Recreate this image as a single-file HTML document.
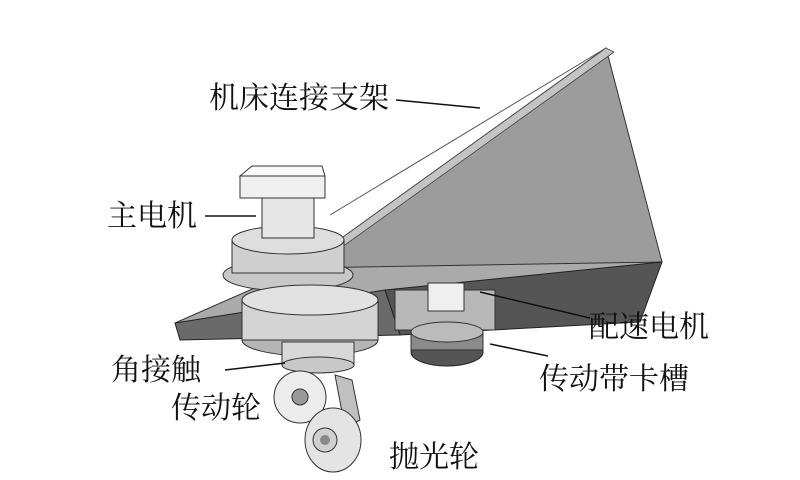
<!DOCTYPE html>
<html><head><meta charset="utf-8"><style>
html,body{margin:0;padding:0;background:#fff;width:800px;height:480px;overflow:hidden}
svg{display:block}
text{font-family:"Liberation Serif","Noto Serif CJK SC","Noto Sans CJK SC",serif;font-size:30px;fill:#111}
</style></head><body>
<svg width="800" height="480" viewBox="0 0 800 480">
<!-- big side face of bracket -->
<polygon points="300,268 606,48 662,262 640,292" fill="#9c9c9c" stroke="#333" stroke-width="1"/>
<polygon points="300,268 606,48 614,52 310,270" fill="#c4c4c4" stroke="#444" stroke-width="0.8"/>
<line x1="330" y1="215" x2="606" y2="48" stroke="#555" stroke-width="1"/>
<!-- plate top -->
<polygon points="175,323 300,268 662,262 420,290 385,300" fill="#aaaaaa" stroke="#333" stroke-width="1"/>
<!-- dark underside -->
<polygon points="385,290 662,262 640,322 400,335" fill="#555" stroke="#222" stroke-width="1"/>
<polygon points="175,323 385,290 400,335 180,340" fill="#6a6a6a" stroke="#222" stroke-width="1"/>
<!-- main motor -->
<ellipse cx="288" cy="275" rx="65" ry="16" fill="#c8c8c8" stroke="#333"/>
<rect x="232" y="240" width="112" height="33" fill="#cfcfcf" stroke="#333"/>
<ellipse cx="288" cy="240" rx="56" ry="14" fill="#dedede" stroke="#333"/>
<rect x="262" y="193" width="52" height="45" fill="#e6e6e6" stroke="#333"/>
<rect x="240" y="176" width="85" height="22" fill="#f0f0f0" stroke="#333"/>
<polygon points="240,176 252,166 322,166 325,176" fill="#fafafa" stroke="#333"/>
<!-- lower bearing housing -->
<ellipse cx="310" cy="340" rx="68" ry="16" fill="#b5b5b5" stroke="#333"/>
<rect x="242" y="300" width="136" height="40" fill="#d4d4d4" stroke="#333"/>
<ellipse cx="310" cy="300" rx="68" ry="15" fill="#e2e2e2" stroke="#333"/>
<rect x="282" y="342" width="72" height="23" fill="#d8d8d8" stroke="#333"/>
<ellipse cx="318" cy="365" rx="36" ry="8" fill="#c8c8c8" stroke="#333"/>
<!-- bracket arm -->
<polygon points="335,375 352,380 360,420 345,428" fill="#c0c0c0" stroke="#333"/>
<!-- drive wheel -->
<circle cx="300" cy="397" r="26" fill="#ececec" stroke="#333"/>
<circle cx="300" cy="397" r="8" fill="#999" stroke="#333"/>
<!-- polish wheel -->
<ellipse cx="333" cy="440" rx="28" ry="32" fill="#e4e4e4" stroke="#333"/>
<circle cx="325" cy="440" r="12" fill="#cfcfcf" stroke="#333"/>
<circle cx="325" cy="440" r="5" fill="#888"/>
<!-- speed motor -->
<rect x="395" y="290" width="100" height="40" fill="#b8b8b8" stroke="#333"/>
<rect x="428" y="283" width="36" height="28" fill="#efefef" stroke="#333"/>
<ellipse cx="447" cy="352" rx="36" ry="14" fill="#555" stroke="#222"/>
<rect x="411" y="332" width="72" height="18" fill="#8a8a8a" stroke="#333"/>
<ellipse cx="447" cy="332" rx="36" ry="10" fill="#bbb" stroke="#333"/>
<!-- leader lines -->
<g stroke="#111" stroke-width="1.5">
<line x1="396" y1="100" x2="480" y2="108"/>
<line x1="205" y1="216" x2="256" y2="216"/>
<line x1="480" y1="292" x2="590" y2="318"/>
<line x1="225" y1="370" x2="285" y2="363"/>
<line x1="490" y1="344" x2="548" y2="356"/>
</g>
<text x="209" y="108">机床连接支架</text>
<text x="107" y="226">主电机</text>
<text x="589" y="337">配速电机</text>
<text x="111" y="380">角接触</text>
<text x="171" y="418">传动轮</text>
<text x="539" y="389">传动带卡槽</text>
<text x="389" y="467">抛光轮</text>
</svg>
</body></html>
